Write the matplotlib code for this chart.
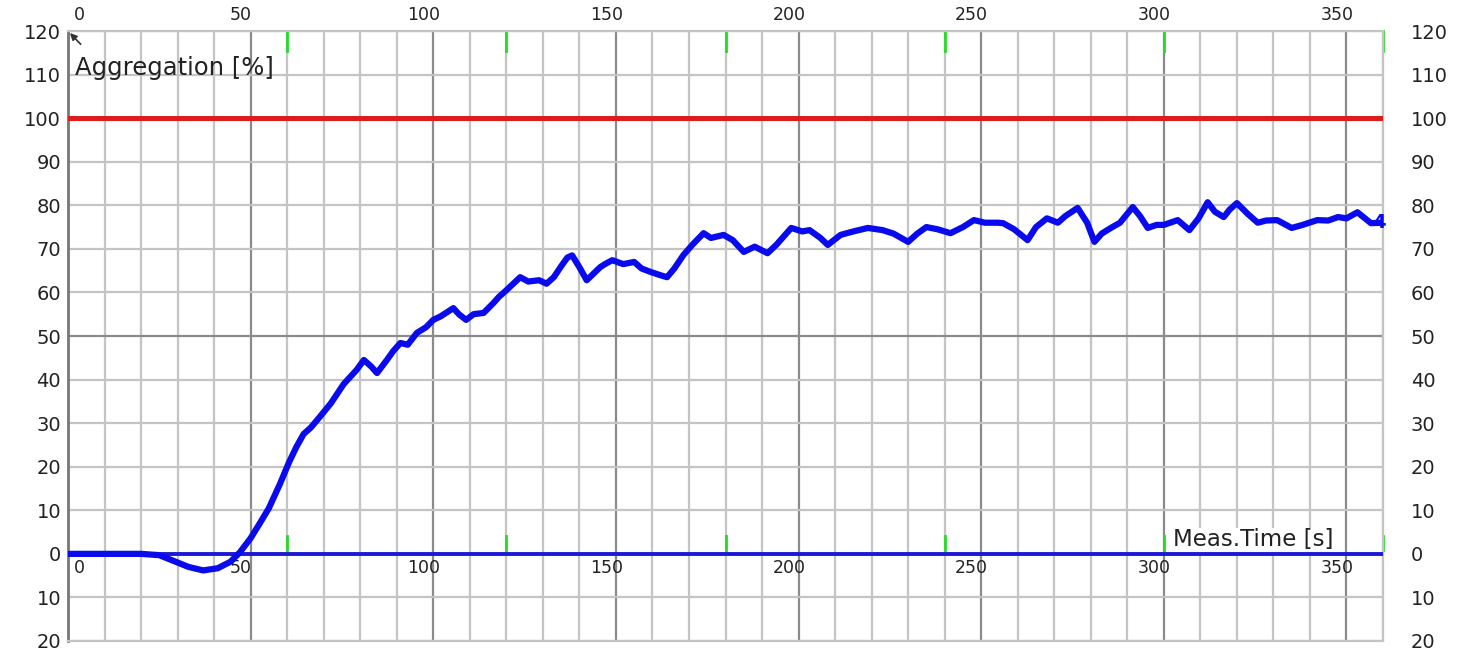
import matplotlib
matplotlib.use("Agg")
import matplotlib.pyplot as plt
from matplotlib.transforms import blended_transform_factory

# ---------------- data ----------------
time_s = [0, 10, 20, 25, 30, 33, 37, 41, 44.5, 47, 50, 52.5, 55, 58, 60.5, 62.5, 64.5,
          66.5, 69, 72, 75.5, 79, 81, 83, 84.6, 87.3, 89, 91, 93, 95.5, 98, 100, 102,
          105.5, 107, 109, 111, 113.8, 116.5, 118, 120, 123.8, 126, 129, 131, 133, 135,
          136.7, 138, 140, 142, 145.7, 147, 149, 152, 155, 157, 159.5, 162, 164, 166,
          168.5, 171, 174, 176, 179.5, 182, 185, 188, 191.5, 194, 198, 201, 203, 206,
          208, 211.5, 215, 219, 223, 226, 230, 232.5, 235, 238, 241.6, 245, 248, 251,
          254.5, 256, 259, 262.7, 265, 268, 271, 273, 276.4, 279, 281, 283, 285.5, 288,
          291.5, 293.5, 295.6, 298, 300, 303.8, 307, 309.5, 312, 314, 316.4, 318, 320,
          323, 325.7, 328, 331, 335, 338, 342, 345, 347.7, 350, 353, 356.7, 360]
aggregation = [0, 0, 0, -0.3, -2, -3, -3.8, -3.3, -1.8, 0.3, 3.6, 7, 10.5, 16, 21, 24.5, 27.5,
               29, 31.5, 34.6, 39, 42.2, 44.5, 43, 41.5, 44.5, 46.5, 48.4, 48, 50.7, 52, 53.7, 54.5,
               56.4, 55, 53.7, 55, 55.3, 57.6, 59, 60.5, 63.5, 62.5, 62.8, 62, 63.5, 66,
               68, 68.5, 65.8, 62.8, 65.8, 66.5, 67.4, 66.5, 67, 65.5, 64.7, 64, 63.5, 65.5,
               68.6, 71, 73.6, 72.5, 73.2, 72, 69.3, 70.5, 69, 71, 74.8, 74, 74.3, 72.5,
               70.9, 73.2, 74, 74.8, 74.3, 73.5, 71.6, 73.5, 75, 74.5, 73.6, 75, 76.6, 76,
               76, 75.9, 74.5, 72, 75, 77, 76, 77.5, 79.4, 76, 71.6, 73.5, 74.8, 76,
               79.6, 77.5, 74.8, 75.5, 75.5, 76.6, 74.3, 77, 80.7, 78.5, 77.3, 79, 80.5,
               78, 76, 76.5, 76.6, 74.8, 75.5, 76.6, 76.5, 77.3, 77, 78.4, 75.9, 76]

y_ticks = [120, 110, 100, 90, 80, 70, 60, 50, 40, 30, 20, 10, 0, -10, -20]
y_labels = ["120", "110", "100", "90", "80", "70", "60", "50", "40", "30", "20", "10", "0", "10", "20"]
x_ticks = [0, 50, 100, 150, 200, 250, 300, 350]
x_labels = ["0", "50", "100", "150", "200", "250", "300", "350"]
x_grid = list(range(0, 361, 10))
y_grid = list(range(-20, 121, 10))
green_marks = [60, 120, 180, 240, 300, 360]
reference_level = 100
curve_label = "4"

# ---------------- figure ----------------
W, H, DPI = 1466, 651, 100
fig = plt.figure(figsize=(W / DPI, H / DPI), dpi=DPI)
fig.patch.set_facecolor("white")
left, right = 68 / W, 1383 / W
bottom, top = (H - 641) / H, (H - 31) / H
ax = fig.add_axes([left, bottom, right - left, top - bottom])
ax.set_xlim(0, 360)
ax.set_ylim(-20, 120)

light = "#c4c4c4"
dark = "#8a8a8a"
for x in x_grid:
    ax.axvline(x, color=dark if x % 50 == 0 else light, lw=1.6, zorder=1)
for y in y_grid:
    if y in (0, reference_level):
        continue
    ax.axhline(y, color=dark if y == 50 else light, lw=1.6, zorder=1)

# green markers
for g in green_marks:
    ax.plot([g, g], [120, 115.5], color="#22dd22", lw=2, zorder=2, clip_on=False)
    ax.plot([g, g], [0.8, 4.0], color="#22dd22", lw=2, zorder=2, clip_on=False)

# reference line and baseline
ax.axhline(reference_level, color="#dd1c1c", lw=3.6, zorder=3)
ax.axhline(0, color="#1a1ad6", lw=2.8, zorder=3)

# curve
ax.plot(time_s, aggregation, color="#0a0aee", lw=4.5, zorder=4)
ax.text(time_s[-1] - 1, aggregation[-1], curve_label, color="#0a0aee", fontsize=14,
        fontweight="bold", ha="center", va="center", zorder=5)

# spines
for s in ["top", "right", "bottom"]:
    ax.spines[s].set_color(light)
    ax.spines[s].set_linewidth(1.6)
ax.spines["left"].set_color("#777777")
ax.spines["left"].set_linewidth(2)

# y tick labels, both sides
ax.set_xticks([])
ax.set_yticks(y_ticks, y_labels)
ax.tick_params(axis="y", length=0, pad=5, labelsize=14, labelcolor="#222222")
ax2 = ax.twinx()
ax2.set_ylim(ax.get_ylim())
ax2.set_yticks(y_ticks, y_labels)
ax2.tick_params(axis="y", length=0, pad=20, labelsize=14, labelcolor="#222222")
for s in ax2.spines.values():
    s.set_visible(False)

# x labels on top and below the zero line
trans_top = blended_transform_factory(ax.transData, ax.transAxes)
for xv, lab in zip(x_ticks, x_labels):
    dx = 4 if xv == 0 else -7
    ha = "left" if xv == 0 else "center"
    ax.annotate(lab, xy=(xv, 1.0), xycoords=trans_top, xytext=(dx, 5),
                textcoords="offset points", ha=ha, va="bottom", fontsize=12.5,
                color="#222222", annotation_clip=False)
    ax.annotate(lab, xy=(xv, 0), xycoords="data", xytext=(dx, -4),
                textcoords="offset points", ha=ha, va="top", fontsize=12.5,
                color="#222222", zorder=2)

# axis titles
ax.text(2, 111.5, "Aggregation [%]", fontsize=17.5, color="#222222", ha="left", va="center", zorder=5)
ax.text(346.5, 0.6, "Meas.Time [s]", fontsize=16.5, color="#222222", ha="right", va="bottom",
        zorder=5, bbox=dict(facecolor="white", edgecolor="none", pad=0.3))

# small arrow at axis top
ax.annotate("", xy=(0, 120), xytext=(4, 116.5), xycoords="data",
            arrowprops=dict(arrowstyle="-|>", color="#333333", lw=1.2), annotation_clip=False)

fig.savefig("out.png", dpi=DPI, facecolor="white")
